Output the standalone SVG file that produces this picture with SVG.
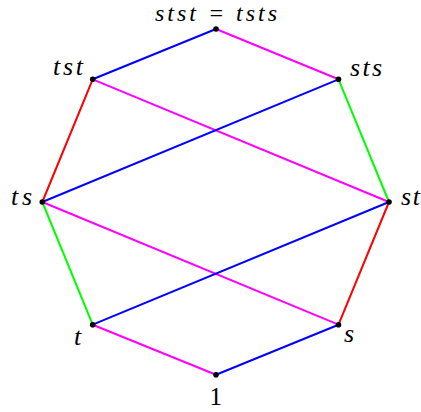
<svg xmlns="http://www.w3.org/2000/svg" width="421" height="412" viewBox="0 0 421 412">
<style>
.e{stroke-width:2;fill:none;stroke-linecap:round}
.b{stroke:#0000ff}.m{stroke:#ff00ff}.r{stroke:#ff0000}.g{stroke:#00ff00}
.d{fill:#000}
.l{font-family:"Liberation Serif","DejaVu Serif",serif;font-style:italic;font-size:26px;fill:#000}
.n{font-family:"Liberation Serif","DejaVu Serif",serif;font-size:25px;fill:#000}
</style>
<rect width="421" height="412" fill="#fff"/>
<g id="connectors">
<line class="e b" x1="216" y1="29" x2="92.7" y2="79.3"/>
<line class="e m" x1="216" y1="29" x2="338.5" y2="79.3"/>
<line class="e r" x1="92.7" y1="79.3" x2="42.3" y2="202"/>
<line class="e m" x1="92.7" y1="79.3" x2="389" y2="202"/>
<line class="e b" x1="338.5" y1="79.3" x2="42.3" y2="202"/>
<line class="e g" x1="338.5" y1="79.3" x2="389" y2="202"/>
<line class="e g" x1="42.3" y1="202" x2="92.7" y2="324.7"/>
<line class="e m" x1="42.3" y1="202" x2="338.5" y2="324.7"/>
<line class="e b" x1="389" y1="202" x2="92.7" y2="324.7"/>
<line class="e r" x1="389" y1="202" x2="338.5" y2="324.7"/>
<line class="e m" x1="92.7" y1="324.7" x2="216" y2="374.7"/>
<line class="e b" x1="338.5" y1="324.7" x2="216" y2="374.7"/>
</g>
<g id="n_stst"><circle class="d" cx="216" cy="29" r="2.8"/><text class="l" x="155" y="20.5" style="font-size:24px" textLength="122" lengthAdjust="spacing">stst = tsts</text></g>
<g id="n_tst"><circle class="d" cx="92.7" cy="79.3" r="2.8"/><text class="l" x="53" y="75" textLength="30" lengthAdjust="spacing">tst</text></g>
<g id="n_sts"><circle class="d" cx="338.5" cy="79.3" r="2.8"/><text class="l" x="350" y="75.5" textLength="32" lengthAdjust="spacing">sts</text></g>
<g id="n_ts"><circle class="d" cx="42.3" cy="202" r="2.8"/><text class="l" x="11" y="205" textLength="21" lengthAdjust="spacing">ts</text></g>
<g id="n_st"><circle class="d" cx="389" cy="202" r="2.8"/><text class="l" x="401" y="205" textLength="19" lengthAdjust="spacing">st</text></g>
<g id="n_t"><circle class="d" cx="92.7" cy="324.7" r="2.8"/><text class="l" x="74" y="345">t</text></g>
<g id="n_s"><circle class="d" cx="338.5" cy="324.7" r="2.8"/><text class="l" x="344" y="341.5">s</text></g>
<g id="n_1"><circle class="d" cx="216" cy="374.7" r="2.8"/><text class="n" x="209.5" y="405">1</text></g>
</svg>
